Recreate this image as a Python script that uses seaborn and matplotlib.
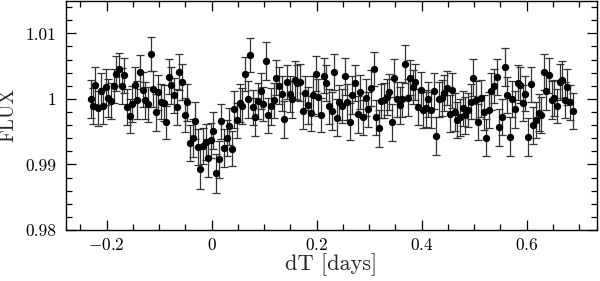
import numpy as np
import matplotlib
matplotlib.use("Agg")
import matplotlib.pyplot as plt
import seaborn as sns
from matplotlib.ticker import MultipleLocator, FuncFormatter

sns.set_style("ticks")
plt.rcParams['font.family'] = ['cmr10', 'DejaVu Serif']
plt.rcParams['mathtext.fontset'] = 'cm'
plt.rcParams['axes.unicode_minus'] = False
plt.rcParams['axes.formatter.use_mathtext'] = True

# time since mid-transit [days]
dt = [
    -0.2305, -0.2267, -0.2217, -0.2166, -0.2114, -0.2065, -0.2013, -0.1970, -0.1918, -0.1861,
    -0.1817, -0.1771, -0.1714, -0.1665, -0.1613, -0.1562, -0.1512, -0.1461, -0.1417, -0.1366,
    -0.1314, -0.1265, -0.1213, -0.1162, -0.1112, -0.1061, -0.1017, -0.0966, -0.0914, -0.0865,
    -0.0819, -0.0770, -0.0718, -0.0667, -0.0617, -0.0566, -0.0514, -0.0465, -0.0413, -0.0362,
    -0.0312, -0.0261, -0.0217, -0.0166, -0.0114, -0.0065, -0.0019, 0.0030, 0.0082, 0.0133,
    0.0183, 0.0229, 0.0286, 0.0330, 0.0381, 0.0430, 0.0482, 0.0533, 0.0583, 0.0634,
    0.0686, 0.0735, 0.0787, 0.0830, 0.0882, 0.0933, 0.0983, 0.1029, 0.1078, 0.1130,
    0.1181, 0.1230, 0.1282, 0.1333, 0.1383, 0.1434, 0.1486, 0.1530, 0.1581, 0.1630,
    0.1682, 0.1733, 0.1783, 0.1834, 0.1886, 0.1930, 0.1981, 0.2030, 0.2082, 0.2133,
    0.2183, 0.2234, 0.2286, 0.2335, 0.2381, 0.2430, 0.2482, 0.2533, 0.2583, 0.2629,
    0.2678, 0.2730, 0.2781, 0.2830, 0.2882, 0.2933, 0.2983, 0.3034, 0.3086, 0.3135,
    0.3181, 0.3230, 0.3282, 0.3333, 0.3383, 0.3434, 0.3478, 0.3530, 0.3581, 0.3630,
    0.3682, 0.3733, 0.3783, 0.3834, 0.3878, 0.3930, 0.3981, 0.4025, 0.4076, 0.4126,
    0.4177, 0.4229, 0.4278, 0.4330, 0.4381, 0.4430, 0.4482, 0.4533, 0.4583, 0.4629,
    0.4678, 0.4730, 0.4781, 0.4830, 0.4882, 0.4933, 0.4977, 0.5029, 0.5078, 0.5130,
    0.5181, 0.5230, 0.5282, 0.5326, 0.5377, 0.5429, 0.5478, 0.5530, 0.5581, 0.5630,
    0.5676, 0.5726, 0.5777, 0.5829, 0.5878, 0.5930, 0.5973, 0.6025, 0.6076, 0.6126,
    0.6177, 0.6229, 0.6278, 0.6324, 0.6373, 0.6425, 0.6476, 0.6526, 0.6577, 0.6629,
    0.6678, 0.6730, 0.6773, 0.6825, 0.6876,
]

flux = [
    1.00000, 0.99893, 1.00209, 0.99854, 1.00128, 0.99893, 1.00183, 1.00011, 0.99970, 1.00198,
    1.00387, 1.00452, 1.00198, 1.00361, 0.99874, 0.99741, 0.99924, 1.00219, 0.99980, 1.00417,
    1.00143, 0.99976, 0.99915, 1.00680, 1.00148, 0.99793, 1.00102, 0.99960, 0.99939, 0.99641,
    1.00341, 1.00209, 1.00052, 0.99874, 1.00411, 1.00259, 0.99756, 0.99945, 0.99330, 0.99406,
    0.99665, 0.99269, 0.98930, 0.99280, 0.99341, 0.99093, 0.99367, 0.99513, 0.98865, 0.99078,
    0.99656, 0.99250, 0.99402, 0.99584, 0.99239, 0.99839, 0.99671, 0.99939, 0.99889, 1.00376,
    0.99995, 1.00676, 0.99869, 0.99717, 0.99970, 1.00122, 0.99924, 1.00574, 0.99747, 0.99884,
    0.99980, 1.00326, 1.00204, 1.00082, 0.99686, 1.00259, 1.00072, 0.99991, 1.00285, 1.00250,
    1.00254, 0.99813, 1.00091, 0.99904, 0.99778, 1.00061, 1.00387, 1.00026, 0.99752, 1.00356,
    1.00244, 0.99884, 0.99813, 1.00411, 0.99711, 0.99945, 0.99889, 1.00346, 0.99954, 0.99650,
    1.00056, 1.00244, 0.99763, 1.00107, 0.99717, 1.00021, 0.99839, 1.00167, 1.00457, 0.99717,
    0.99549, 0.99965, 0.99980, 1.00030, 1.00107, 0.99645, 1.00315, 0.99995, 0.99900, 0.99995,
    1.00533, 1.00021, 1.00326, 1.00183, 1.00259, 0.99874, 1.00132, 0.99828, 0.99854, 0.99991,
    0.99833, 1.00122, 0.99437, 0.99991, 1.00015, 1.00091, 1.00163, 0.99772, 1.00132, 0.99798,
    0.99680, 0.99717, 0.99854, 0.99752, 0.99828, 0.99960, 1.00326, 0.99980, 0.99650, 1.00011,
    0.99793, 0.99406, 0.99833, 1.00113, 1.00193, 1.00335, 0.99565, 0.99726, 1.00487, 1.00061,
    0.99422, 1.00000, 0.99839, 1.00250, 1.00209, 0.99939, 1.00082, 0.99417, 1.00224, 0.99595,
    0.99676, 0.99787, 0.99756, 1.00411, 1.00117, 1.00361, 0.99976, 1.00011, 0.99893, 1.00259,
    1.00295, 0.99985, 1.00183, 0.99945, 0.99817,
]

flux_err = [
    0.0029, 0.0027, 0.0028, 0.0027, 0.0026, 0.0028, 0.0027, 0.0029, 0.0027, 0.0026,
    0.0027, 0.0025, 0.0028, 0.0027, 0.0027, 0.0026, 0.0028, 0.0027, 0.0029, 0.0026,
    0.0027, 0.0028, 0.0026, 0.0026, 0.0027, 0.0028, 0.0027, 0.0026, 0.0028, 0.0025,
    0.0027, 0.0028, 0.0026, 0.0027, 0.0028, 0.0027, 0.0026, 0.0028, 0.0027, 0.0029,
    0.0028, 0.0027, 0.0030, 0.0027, 0.0028, 0.0029, 0.0027, 0.0028, 0.0030, 0.0028,
    0.0027, 0.0029, 0.0027, 0.0028, 0.0027, 0.0028, 0.0027, 0.0029, 0.0027, 0.0026,
    0.0028, 0.0026, 0.0027, 0.0029, 0.0027, 0.0028, 0.0026, 0.0029, 0.0027, 0.0028,
    0.0027, 0.0026, 0.0028, 0.0027, 0.0028, 0.0026, 0.0027, 0.0028, 0.0029, 0.0027,
    0.0028, 0.0027, 0.0026, 0.0028, 0.0027, 0.0029, 0.0027, 0.0028, 0.0026, 0.0027,
    0.0028, 0.0027, 0.0029, 0.0027, 0.0028, 0.0027, 0.0026, 0.0028, 0.0027, 0.0028,
    0.0029, 0.0027, 0.0028, 0.0026, 0.0027, 0.0028, 0.0027, 0.0028, 0.0026, 0.0027,
    0.0028, 0.0026, 0.0027, 0.0028, 0.0027, 0.0028, 0.0029, 0.0027, 0.0028, 0.0027,
    0.0029, 0.0028, 0.0027, 0.0026, 0.0028, 0.0027, 0.0028, 0.0027, 0.0028, 0.0026,
    0.0027, 0.0028, 0.0029, 0.0027, 0.0028, 0.0027, 0.0026, 0.0028, 0.0027, 0.0029,
    0.0027, 0.0028, 0.0027, 0.0028, 0.0026, 0.0027, 0.0028, 0.0029, 0.0027, 0.0028,
    0.0027, 0.0028, 0.0027, 0.0028, 0.0026, 0.0027, 0.0028, 0.0027, 0.0029, 0.0027,
    0.0030, 0.0027, 0.0028, 0.0026, 0.0027, 0.0028, 0.0027, 0.0029, 0.0027, 0.0028,
    0.0027, 0.0028, 0.0027, 0.0027, 0.0028, 0.0027, 0.0029, 0.0027, 0.0026, 0.0027,
    0.0028, 0.0027, 0.0028, 0.0027, 0.0027,
]

fig = plt.figure(figsize=(6, 2.81), dpi=100)
ax = fig.add_axes([0.11, 0.1815, 0.885, 0.8165])

ax.errorbar(dt, flux, yerr=flux_err, fmt='none', ecolor='0.2',
            elinewidth=0.9, capsize=3, capthick=0.9, zorder=1)
sns.scatterplot(x=dt, y=flux, ax=ax, color='black', s=28,
                linewidth=0, zorder=2, legend=False)

ax.set_xlim(-0.2775, 0.734)
ax.set_ylim(0.98, 1.015)
ax.xaxis.set_major_locator(MultipleLocator(0.2))
ax.xaxis.set_minor_locator(MultipleLocator(0.05))
ax.yaxis.set_major_locator(MultipleLocator(0.01))
ax.yaxis.set_minor_locator(MultipleLocator(0.002))
ax.xaxis.set_major_formatter(FuncFormatter(lambda v, p: r'$%g$' % round(v, 3)))
ax.yaxis.set_major_formatter(FuncFormatter(lambda v, p: '%g' % round(v, 3)))

ax.tick_params(which='both', direction='in', top=True, right=True,
               colors='black', labelsize=12.5, width=0.9)
ax.tick_params(which='major', length=7)
ax.tick_params(axis='x', which='major', pad=5)
ax.tick_params(axis='y', which='major', pad=7)
ax.tick_params(which='minor', length=4)
for s in ax.spines.values():
    s.set_linewidth(1.0)
    s.set_color('black')

ax.set_xlabel('dT [days]', fontsize=16, labelpad=0)
ax.set_ylabel('FLUX', fontsize=14, labelpad=6)

fig.savefig('out.png', dpi=100)
